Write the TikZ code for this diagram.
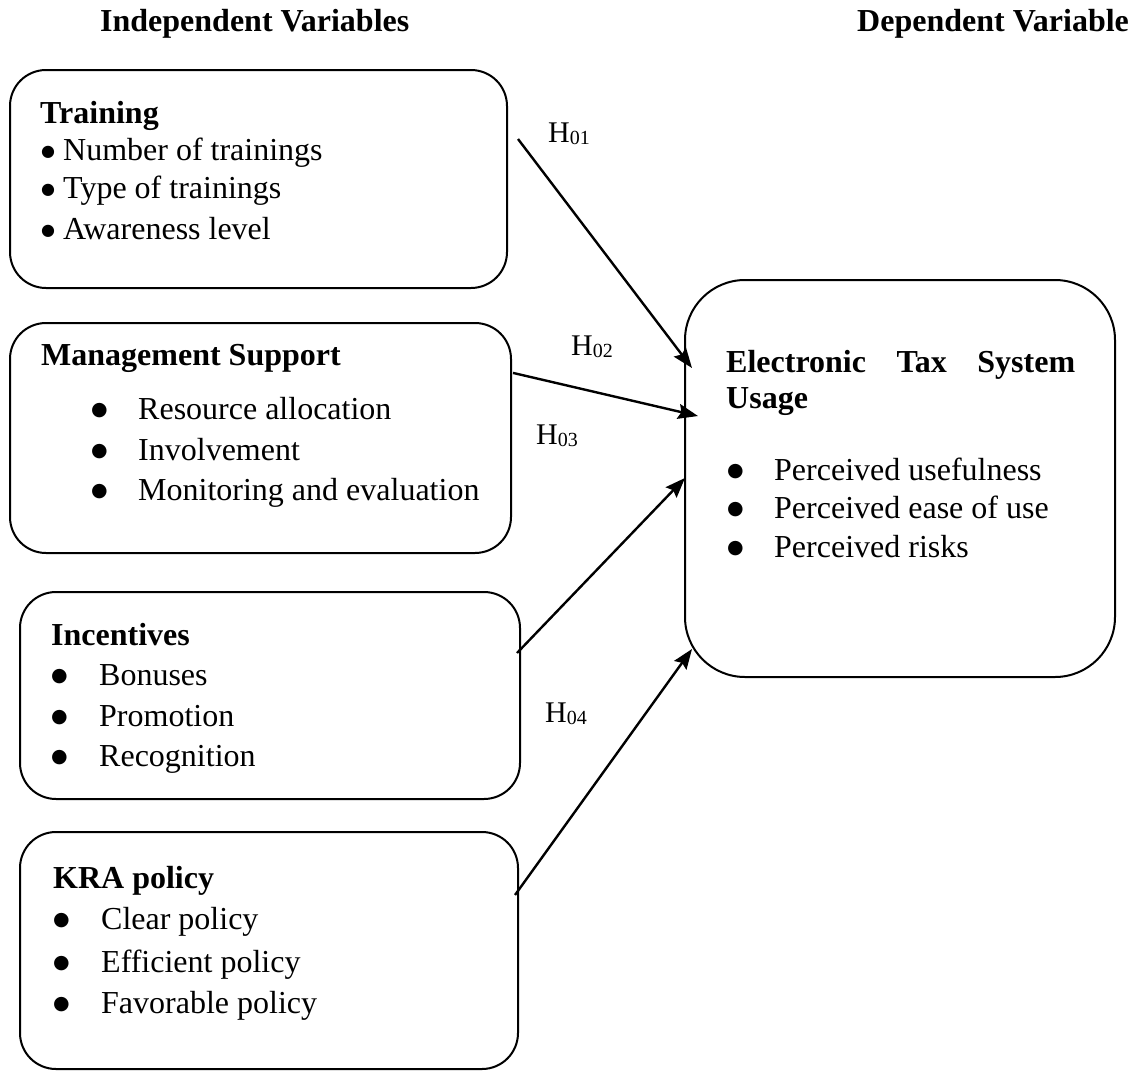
\documentclass[tikz,border=0pt]{standalone}
\usepackage{fontspec}
\setmainfont{Liberation Serif}
\newfontfamily\bulfont{DejaVu Sans}
\usetikzlibrary{calc,arrows.meta}
\tikzset{
 box/.style={draw, line width=2pt, rounded corners=36pt, inner sep=0pt, outer sep=0pt},
 txt/.style={anchor=base west, inner sep=0pt, font=\fontsize{32}{38}\selectfont},
 hd/.style={anchor=base west, inner sep=0pt, font=\fontsize{32}{38}\selectfont\bfseries},
 hyp/.style={anchor=base west, inner sep=0pt, font=\fontsize{30}{36}\selectfont},
 arr/.style={line width=2.4pt, -{Stealth[length=20pt,width=15pt,inset=3pt]}},
}
\newcommand{\bul}[2][19]{\makebox[#2][l]{\raisebox{4pt}{\bulfont\fontsize{#1}{#1}\selectfont ●}}}
\newcommand{\hsub}[1]{H\raisebox{-2.5pt}{\fontsize{20}{20}\selectfont #1}}
\begin{document}
\begin{tikzpicture}[x=1pt,y=-1pt]
\useasboundingbox[fill=white] (0,0) rectangle (1141,1071);
% headers
\node[hd] (hind) at (100,31) {Independent Variables};
\node[hd] (hdep) at (857,31) {Dependent Variable};
% boxes
\node[box, minimum width=497pt, minimum height=218pt] (tr) at (258.5,179) {};
\node[box, minimum width=501pt, minimum height=230pt] (mg) at (260.5,438) {};
\node[box, minimum width=500pt, minimum height=207pt] (inc) at (270,695.5) {};
\node[box, minimum width=498pt, minimum height=237pt] (kra) at (269,950.5) {};
\node[box, rounded corners=60pt, minimum width=430pt, minimum height=397pt] (ets) at (900,478.5) {};
% training
\node[hd] (tr0) at (40,123) {Training};
\node[txt] (tr1) at (41,160) {\bul[16]{22pt}Number of trainings};
\node[txt] (tr2) at (41,198) {\bul[16]{22pt}Type of trainings};
\node[txt] (tr3) at (41,239) {\bul[16]{22pt}Awareness level};
% management
\node[hd] (mg0) at (41,365) {Management Support};
\node[txt] (mg1) at (91,419) {\bul{47pt}Resource allocation};
\node[txt] (mg2) at (91,460) {\bul{47pt}Involvement};
\node[txt] (mg3) at (91,500) {\bul{47pt}Monitoring and evaluation};
% incentives
\node[hd] (inc0) at (51,645) {Incentives};
\node[txt] (inc1) at (51,685) {\bul{48pt}Bonuses};
\node[txt] (inc2) at (51,726) {\bul{48pt}Promotion};
\node[txt] (inc3) at (51,766) {\bul{48pt}Recognition};
% kra
\node[hd] (kra0) at (53,888) {KRA policy};
\node[txt] (kra1) at (53,929) {\bul{48pt}Clear policy};
\node[txt] (kra2) at (53,972) {\bul{48pt}Efficient policy};
\node[txt] (kra3) at (53,1013) {\bul{48pt}Favorable policy};
% electronic tax system
\node[hd] (ets0) at (726,372) {\makebox[349pt][s]{Electronic Tax System}};
\node[hd] (ets1) at (726,408) {Usage};
\node[txt] (ets2) at (727,480) {\bul{47pt}Perceived usefulness};
\node[txt] (ets3) at (727,518) {\bul{47pt}Perceived ease of use};
\node[txt] (ets4) at (727,557) {\bul{47pt}Perceived risks};
% hypotheses
\node[hyp] (h1) at (548,142) {\hsub{01}};
\node[hyp] (h2) at (571,355) {\hsub{02}};
\node[hyp] (h3) at (536,444) {\hsub{03}};
\node[hyp] (h4) at (545,722) {\hsub{04}};
% arrows
\draw[arr] ($(tr.north east)!0.3165!(tr.south east)+(11,0)$) -- ($(ets.north west)!0.2217!(ets.south west)+(7,0)$);
\draw[arr] ($(mg.north east)!0.217!(mg.south east)+(2,0)$) -- ($(ets.north west)!0.3426!(ets.south west)+(13,0)$);
\draw[arr] ($(inc.north east)!0.2947!(inc.south east)+(-3,0)$) -- ($(ets.north west)!0.4987!(ets.south west)$);
\draw[arr] ($(kra.north east)!0.2658!(kra.south east)+(-3,0)$) -- ($(ets.north west)!0.9295!(ets.south west)+(7,0)$);
\end{tikzpicture}
\end{document}
